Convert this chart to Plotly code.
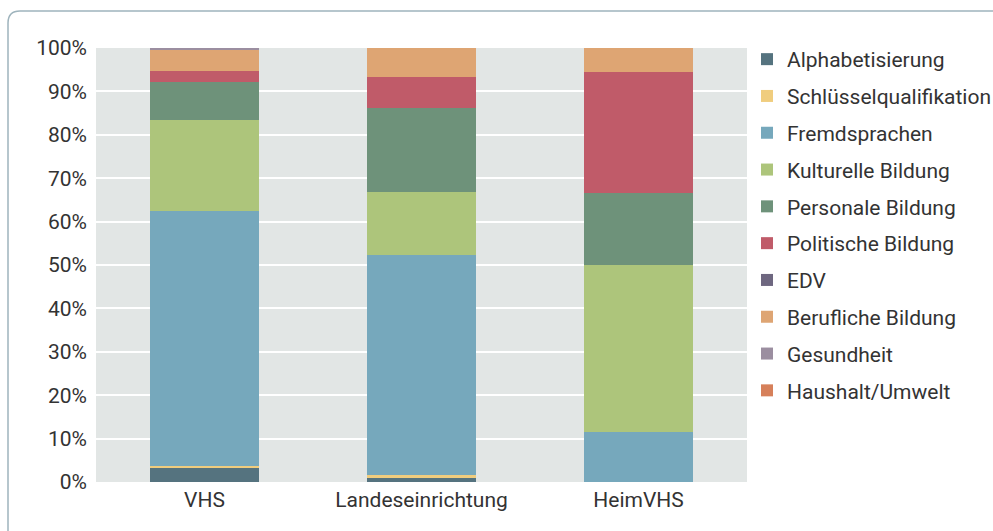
import plotly.graph_objects as go

categories = ["VHS", "Landeseinrichtung", "HeimVHS"]

series_names = ["Alphabetisierung", "Schlüsselqualifikation", "Fremdsprachen",
                "Kulturelle Bildung", "Personale Bildung", "Politische Bildung",
                "EDV", "Berufliche Bildung", "Gesundheit", "Haushalt/Umwelt"]

alphabetisierung = [3.3, 1.0, 0.0]
schluesselqualifikation = [0.5, 0.7, 0.0]
fremdsprachen = [58.6, 50.7, 11.5]
kulturelle_bildung = [20.9, 14.5, 38.5]
personale_bildung = [8.8, 19.3, 16.6]
politische_bildung = [2.7, 7.1, 27.9]
edv = [0.0, 0.0, 0.0]
berufliche_bildung = [4.9, 6.7, 5.5]
gesundheit = [0.3, 0.0, 0.0]
haushalt_umwelt = [0.0, 0.0, 0.0]

series_values = [alphabetisierung, schluesselqualifikation, fremdsprachen,
                 kulturelle_bildung, personale_bildung, politische_bildung,
                 edv, berufliche_bildung, gesundheit, haushalt_umwelt]

colors = ["#55737f", "#f0cd7e", "#76a8bc", "#adc57b", "#6e927a",
          "#c05b69", "#6e6780", "#dea573", "#9b8ea0", "#d6805a"]

y_ticks = [0, 10, 20, 30, 40, 50, 60, 70, 80, 90, 100]
y_tick_labels = ["0%", "10%", "20%", "30%", "40%", "50%",
                 "60%", "70%", "80%", "90%", "100%"]

FONT = "Roboto, 'Open Sans', sans-serif"
FS = 21
TXT = "#333333"

fig = go.Figure()
for i, (name, vals, col) in enumerate(zip(series_names, series_values, colors)):
    fig.add_trace(go.Bar(
        x=categories, y=vals, name=name,
        marker=dict(color=col, line=dict(width=0)),
        legendgroup=f"g{i}",
        hoverinfo="name+y",
    ))

W, H = 993, 531
L, R, T, B = 96, 246, 48, 49
pw = W - L - R
ph = H - T - B

def px2x(px):
    return (px - L) / pw

def py2y(py):
    return (H - B - py) / ph

x0, y0 = px2x(8), py2y(11)
x1, y1 = px2x(1010), py2y(545)
rx, ry = 12 / pw, 12 / ph
frame_path = (f"M {x0},{y1} L {x0},{y0 - ry} Q {x0},{y0} {x0 + rx},{y0} "
              f"L {x1},{y0}")

fig.update_layout(
    width=W, height=H,
    margin=dict(l=L, r=R, t=T, b=B, pad=0),
    barmode="stack",
    bargap=0.5,
    paper_bgcolor="white",
    plot_bgcolor="#e2e6e5",
    font=dict(family=FONT, size=FS, color=TXT),
    legend=dict(
        xref="container", yref="container",
        x=747 / W, xanchor="left", y=1 - 39 / H, yanchor="top",
        traceorder="grouped",
        tracegroupgap=6.5,
        maxheight=500,
        font=dict(family=FONT, size=FS, color=TXT),
        bgcolor="rgba(0,0,0,0)",
        itemclick=False, itemdoubleclick=False,
    ),
    xaxis=dict(
        showgrid=False, showline=False, zeroline=False,
        ticks="", tickfont=dict(size=FS, color=TXT),
        ticklabelstandoff=3,
        fixedrange=True, automargin=False,
    ),
    yaxis=dict(
        range=[0, 100], tickmode="array", tickvals=y_ticks, ticktext=y_tick_labels,
        showgrid=True, gridcolor="white", gridwidth=2,
        zeroline=False, showline=False, ticks="",
        ticklabelstandoff=8,
        tickfont=dict(size=FS, color=TXT),
        fixedrange=True, automargin=False,
    ),
    shapes=[dict(
        type="path", path=frame_path, xref="paper", yref="paper",
        line=dict(color="#9fb4bd", width=1.5), layer="below",
    )],
)

fig.write_html(
    "out.html",
    config={"displayModeBar": False},
    post_script="document.body.style.margin='0';document.body.style.overflow='hidden';",
)
